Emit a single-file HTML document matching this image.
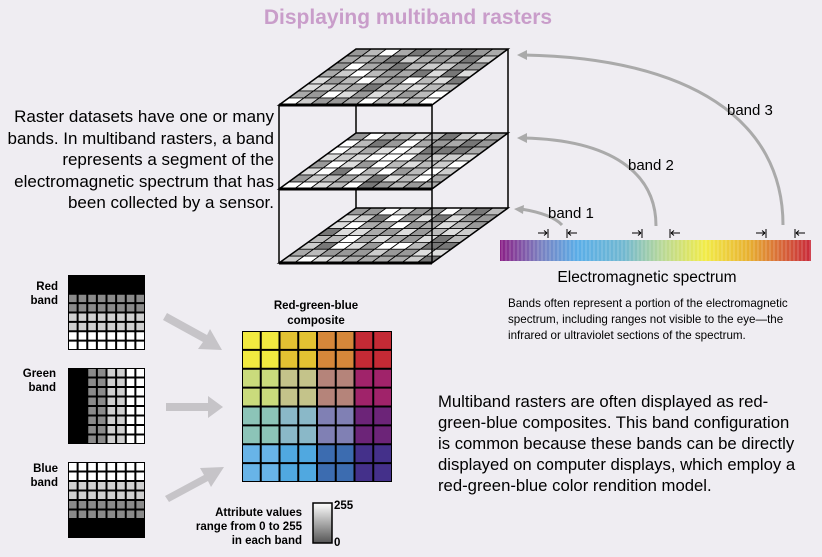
<!DOCTYPE html>
<html><head><meta charset="utf-8"><style>
body{margin:0;width:822px;height:557px;overflow:hidden;background:#efedf2;font-family:"Liberation Sans",sans-serif}
svg{position:absolute;left:0;top:0}
.t{position:absolute;font-size:15.5px;line-height:21.5px;color:#000;white-space:nowrap}
</style></head><body>
<svg id="s" width="822" height="557" viewBox="0 0 822 557">
<defs>
<linearGradient id="spec" x1="0" x2="1">
<stop offset="0" stop-color="#8a1f86"/><stop offset="0.13" stop-color="#7a80c0"/><stop offset="0.25" stop-color="#5aaee8"/><stop offset="0.4" stop-color="#72b8d0"/><stop offset="0.52" stop-color="#b8d898"/><stop offset="0.66" stop-color="#f2ec48"/><stop offset="0.8" stop-color="#e8b030"/><stop offset="0.9" stop-color="#d86a38"/><stop offset="1" stop-color="#c8283a"/>
</linearGradient>
<linearGradient id="leg" x1="0" y1="0" x2="0" y2="1"><stop offset="0" stop-color="#fff"/><stop offset="1" stop-color="#555"/></linearGradient>
</defs>
<text x="408" y="24" text-anchor="middle" font-size="21" font-weight="bold" fill="#c99dca">Displaying multiband rasters</text>
<g id="layers"></g>
<g fill="none" stroke="#aaa" stroke-width="3">
<path d="M783,225 C783,120 690,58 524,55"/>
<path d="M656,226 C656,172 610,140 524,138"/>
<path d="M562,225 Q552,214 521,209"/>
</g>
<path d="M517,55 l10,-5 l0,10z M517,138 l10,-5 l0,10z M514,209 l10,-4 l-1,9z" fill="#aaa"/>
<g font-size="15" fill="#000">
<text x="727" y="115">band 3</text><text x="628" y="170">band 2</text><text x="548" y="218">band 1</text>
</g>
<rect x="500" y="240" width="311" height="21" fill="url(#spec)"/>
<g id="specl" stroke="#fff" stroke-opacity="0.25"></g>
<g stroke="#000" stroke-width="1" fill="none" id="ticks"></g>
<text x="647" y="282" text-anchor="middle" font-size="15.5">Electromagnetic spectrum</text>
<g font-size="11.6" fill="#000"><text x="508" y="307">Bands often represent a portion of the electromagnetic</text><text x="508" y="323">spectrum, including ranges not visible to the eye—the</text><text x="508" y="339">infrared or ultraviolet sections of the spectrum.</text></g>
<g id="bands"></g>
<g fill="#c6c4c8">
<path d="M167,313 L207,335 L210,329 L222,350 L198,349 L203,342 L163,320Z"/>
<path d="M166,403 L208,403 L208,396 L223,407 L208,418 L208,411 L166,411Z"/>
<path d="M165,496 L204,475 L200,468 L224,467 L211,487 L208,481 L169,502Z"/>
</g>
<g font-size="11.5" font-weight="bold" text-anchor="end">
<text x="58" y="290">Red</text><text x="58" y="304">band</text>
<text x="56" y="377">Green</text><text x="56" y="391">band</text>
<text x="58" y="472">Blue</text><text x="58" y="486">band</text>
<text x="316" y="309" text-anchor="middle">Red-green-blue</text><text x="316" y="324" text-anchor="middle">composite</text>
<text x="302" y="516">Attribute values</text><text x="302" y="530">range from 0 to 255</text><text x="302" y="544">in each band</text>
<text x="334" y="509" text-anchor="start">255</text><text x="334" y="546" text-anchor="start">0</text>
</g>
<rect x="313" y="503" width="19" height="40" fill="url(#leg)" stroke="#000" stroke-width="1.5"/>
</svg>
<div class="t" style="right:548px;top:106px;text-align:right;font-size:17px;line-height:21.5px">Raster datasets have one or many<br>bands. In multiband rasters, a band<br>represents a segment of the<br>electromagnetic spectrum that has<br>been collected by a sensor.</div>
<div class="t" style="left:438px;top:391px;font-size:16.7px;line-height:21px">Multiband rasters are often displayed as red-<br>green-blue composites. This band configuration<br>is common because these bands can be directly<br>displayed on computer displays, which employ a<br>red-green-blue color rendition model.</div>
<script>
var NS="http://www.w3.org/2000/svg";
function el(p,t,a){var e=document.createElementNS(NS,t);for(var k in a)e.setAttribute(k,a[k]);p.appendChild(e);return e;}
var L=document.getElementById("layers");
var grays=["#fff","#ddd","#bbb","#999","#777","#ccc","#aaa"];
var seed=7;function rnd(){seed=(seed*9301+49297)%233280;return seed/233280;}
function layer(by,fy){
 var bl=356,br=508,fl=279,fr=432,C=10,R=8;
 for(var r=0;r<R;r++)for(var c=0;c<C;c++){
  function pt(cc,rr){var y=by+(fy-by)*rr/R;var xl=bl+(fl-bl)*rr/R;var xr=br+(fr-br)*rr/R;return [xl+(xr-xl)*cc/C,y];}
  var a=pt(c,r),b=pt(c+1,r),d=pt(c+1,r+1),e=pt(c,r+1);
  var g=grays[Math.floor(rnd()*grays.length)];
  el(L,"polygon",{points:a+" "+b+" "+d+" "+e,fill:g,stroke:"#000","stroke-width":"0.8"});
 }
 el(L,"polygon",{points:bl+","+by+" "+br+","+by+" "+fr+","+fy+" "+fl+","+fy,fill:"none",stroke:"#000","stroke-width":"1.5"});
 el(L,"line",{x1:fl,y1:fy,x2:fr,y2:fy,stroke:"#000","stroke-width":"3"});
}
layer(208,263);
el(L,"line",{x1:356,y1:189,x2:356,y2:208,stroke:"#000","stroke-width":"1.5"});
el(L,"line",{x1:279,y1:189,x2:279,y2:263,stroke:"#000","stroke-width":"1.5"});
el(L,"line",{x1:432,y1:189,x2:432,y2:263,stroke:"#000","stroke-width":"1.5"});
layer(133,189);
el(L,"line",{x1:508,y1:133,x2:508,y2:208,stroke:"#000","stroke-width":"1.5"});
el(L,"line",{x1:356,y1:105,x2:356,y2:133,stroke:"#000","stroke-width":"1.5"});
el(L,"line",{x1:279,y1:105,x2:279,y2:189,stroke:"#000","stroke-width":"1.5"});
el(L,"line",{x1:432,y1:105,x2:432,y2:189,stroke:"#000","stroke-width":"1.5"});
layer(49,105);
el(L,"line",{x1:508,y1:49,x2:508,y2:133,stroke:"#000","stroke-width":"1.5"});
var S=document.getElementById("specl");
for(var x=502;x<811;x+=4)el(S,"line",{x1:x,y1:240,x2:x,y2:261});
var T=document.getElementById("ticks");
[[548,1],[567,0],[642,1],[670,0],[766,1],[795,0]].forEach(function(q){
 var x=q[0];el(T,"line",{x1:x,y1:229,x2:x,y2:238});
 if(q[1]){el(T,"line",{x1:x-10,y1:233,x2:x-1,y2:233});el(T,"path",{d:"M"+(x-1)+",233 l-3,-2.5 M"+(x-1)+",233 l-3,2.5"});}
 else{el(T,"line",{x1:x+1,y1:233,x2:x+10,y2:233});el(T,"path",{d:"M"+(x+1)+",233 l3,-2.5 M"+(x+1)+",233 l3,2.5"});}
});
var B=document.getElementById("bands");
var lv=["#000","#8a8a8a","#cfcfcf","#fff"];
function grid(x0,y0,w,h,fn){
 el(B,"rect",{x:x0,y:y0,width:w,height:h,fill:"#000"});
 var cw=w/8,ch=h/8;
 for(var r=0;r<8;r++)for(var c=0;c<8;c++){var col=fn(r,c);if(col=="#000")continue;el(B,"rect",{x:x0+c*cw+1,y:y0+r*ch+1,width:cw-2,height:ch-2,fill:col});}
}
grid(68,275,77,75,function(r,c){return lv[r>>1];});
grid(68,368,77,76,function(r,c){return lv[c>>1];});
grid(68,462,77,76,function(r,c){return lv[3-(r>>1)];});
var cc=[["#f2ea40","#e3c232","#d5873a","#c42a35"],["#cadb7c","#c4c38a","#b5847a","#a0236a"],["#8cc4b8","#8ab8c8","#8080b4","#6c2478"],["#68b4e8","#50a8e0","#3c6cb0","#44308a"]];
grid(242,331,150,151,function(r,c){return cc[r>>1][c>>1];});
</script>
</body></html>
